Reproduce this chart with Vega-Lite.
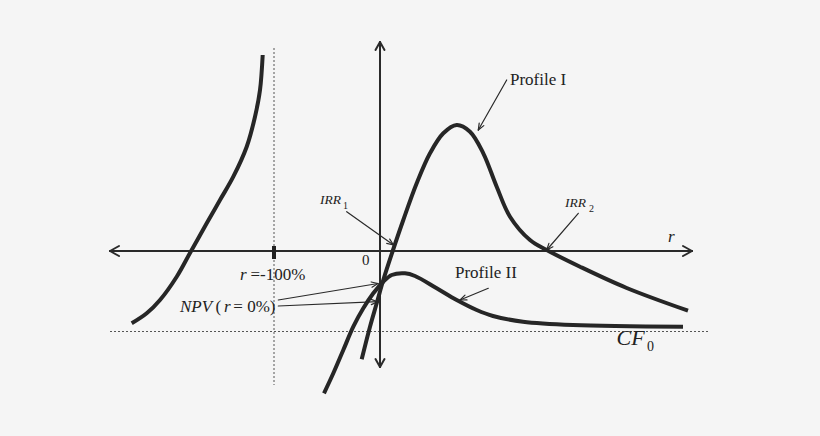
{
  "$schema": "https://vega.github.io/schema/vega-lite/v6.json",
  "description": "NPV profiles with multiple IRRs",
  "width": 820,
  "height": 436,
  "autosize": {"type": "fit", "contains": "padding"},
  "padding": 0,
  "background": "#f5f5f5",
  "config": {
    "view": {"stroke": null},
    "text": {"font": "Liberation Serif", "color": "#222222", "align": "left", "baseline": "middle"}
  },
  "datasets": {
    "curves": [
      {"curve": "left", "x": -248.3, "y": -72.3},
      {"curve": "left", "x": -233.3, "y": -62.3},
      {"curve": "left", "x": -220, "y": -49},
      {"curve": "left", "x": -203.3, "y": -25.7},
      {"curve": "left", "x": -189.3, "y": -0.7},
      {"curve": "left", "x": -173.3, "y": 27.7},
      {"curve": "left", "x": -160, "y": 51},
      {"curve": "left", "x": -146.7, "y": 74.3},
      {"curve": "left", "x": -133.3, "y": 104.3},
      {"curve": "left", "x": -125, "y": 134.3},
      {"curve": "left", "x": -120, "y": 161},
      {"curve": "left", "x": -117.3, "y": 196},
      {"curve": "I", "x": -18.3, "y": -108.3},
      {"curve": "I", "x": -10, "y": -75.7},
      {"curve": "I", "x": -3.3, "y": -52.3},
      {"curve": "I", "x": 3.3, "y": -29},
      {"curve": "I", "x": 12.7, "y": 0},
      {"curve": "I", "x": 23.3, "y": 31},
      {"curve": "I", "x": 36.7, "y": 67.7},
      {"curve": "I", "x": 50, "y": 97.7},
      {"curve": "I", "x": 63.3, "y": 117.7},
      {"curve": "I", "x": 76.7, "y": 126},
      {"curve": "I", "x": 90, "y": 119.3},
      {"curve": "I", "x": 103.3, "y": 97.7},
      {"curve": "I", "x": 116.7, "y": 64.3},
      {"curve": "I", "x": 130, "y": 34.3},
      {"curve": "I", "x": 150, "y": 11},
      {"curve": "I", "x": 166.7, "y": 1},
      {"curve": "I", "x": 200, "y": -15.7},
      {"curve": "I", "x": 246.7, "y": -37},
      {"curve": "I", "x": 308, "y": -59.7},
      {"curve": "II", "x": -56, "y": -142.3},
      {"curve": "II", "x": -46.7, "y": -122.3},
      {"curve": "II", "x": -36.7, "y": -99},
      {"curve": "II", "x": -26.7, "y": -75.7},
      {"curve": "II", "x": -16.7, "y": -57.3},
      {"curve": "II", "x": -6.7, "y": -42.3},
      {"curve": "II", "x": 3.3, "y": -30.7},
      {"curve": "II", "x": 11.7, "y": -24},
      {"curve": "II", "x": 25, "y": -22.3},
      {"curve": "II", "x": 35, "y": -25},
      {"curve": "II", "x": 56.7, "y": -37.3},
      {"curve": "II", "x": 76.7, "y": -49},
      {"curve": "II", "x": 96.7, "y": -59},
      {"curve": "II", "x": 113, "y": -65},
      {"curve": "II", "x": 143, "y": -70.7},
      {"curve": "II", "x": 193, "y": -74},
      {"curve": "II", "x": 303, "y": -75.7}
    ],
    "axes": [
      {"x": -270, "y": 0, "x2": 312, "y2": 0},
      {"x": -270, "y": 0, "x2": -261, "y2": 5},
      {"x": -270, "y": 0, "x2": -261, "y2": -5},
      {"x": 312, "y": 0, "x2": 303, "y2": 5},
      {"x": 312, "y": 0, "x2": 303, "y2": -5},
      {"x": 0, "y": 209, "x2": 0, "y2": -116},
      {"x": 0, "y": 209, "x2": -4.5, "y2": 201},
      {"x": 0, "y": 209, "x2": 4.5, "y2": 201},
      {"x": 0, "y": -116, "x2": -4.5, "y2": -108},
      {"x": 0, "y": -116, "x2": 4.5, "y2": -108}
    ],
    "dotted": [
      {"x": -106, "y": 203, "x2": -106, "y2": -134},
      {"x": -270, "y": -80.5, "x2": 330, "y2": -80.5}
    ],
    "tick": [
      {"x": -106, "y": 5, "x2": -106, "y2": -8}
    ],
    "pointers": [
      {"x": 126.7, "y": 171, "x2": 98.3, "y2": 121},
      {"x": 98.3, "y": 121, "x2": 99.2, "y2": 127.9},
      {"x": 98.3, "y": 121, "x2": 103.8, "y2": 125.4},
      {"x": 198.3, "y": 37.7, "x2": 166.7, "y2": 1},
      {"x": 166.7, "y": 1, "x2": 168.9, "y2": 7.6},
      {"x": 166.7, "y": 1, "x2": 172.9, "y2": 4.2},
      {"x": -33.3, "y": 39.3, "x2": 13.5, "y2": 6},
      {"x": 13.5, "y": 6, "x2": 6.69, "y2": 7.62},
      {"x": 13.5, "y": 6, "x2": 9.73, "y2": 11.91},
      {"x": 108.3, "y": -37.3, "x2": 80, "y2": -49},
      {"x": 80, "y": -49, "x2": 85, "y2": -44.1},
      {"x": 80, "y": -49, "x2": 87, "y2": -48.95},
      {"x": -101.7, "y": -49, "x2": -2, "y2": -32.5},
      {"x": -2, "y": -32.5, "x2": -7.98, "y2": -36.15},
      {"x": -2, "y": -32.5, "x2": -8.83, "y2": -30.97},
      {"x": -101.7, "y": -55, "x2": -2.3, "y2": -50.7},
      {"x": -2.3, "y": -50.7, "x2": -8.67, "y2": -53.61},
      {"x": -2.3, "y": -50.7, "x2": -8.9, "y2": -48.36}
    ],
    "roman": [
      {"label": "Profile I", "x": 130, "y": 171},
      {"label": "Profile II", "x": 75, "y": -22},
      {"label": "=-100%", "x": -129.5, "y": -24},
      {"label": "(", "x": -164.5, "y": -56},
      {"label": "= 0%)", "x": -146.7, "y": -56}
    ],
    "italic": [
      {"label": "r", "x": -140, "y": -24},
      {"label": "NPV", "x": -200, "y": -56},
      {"label": "r", "x": -156, "y": -56},
      {"label": "r", "x": 288, "y": 14}
    ],
    "origin": [
      {"label": "0", "x": -18, "y": -9}
    ],
    "irr": [
      {"label": "IRR", "x": 185, "y": 48},
      {"label": "IRR", "x": -60, "y": 51}
    ],
    "irrsub": [
      {"label": "2", "x": 209, "y": 42},
      {"label": "1", "x": -37, "y": 45}
    ],
    "cf": [
      {"label": "CF", "x": 236.5, "y": -87}
    ],
    "cfsub": [
      {"label": "0", "x": 267, "y": -96}
    ]
  },
  "layer": [
    {
      "data": {"name": "dotted"},
      "mark": {"type": "rule", "color": "#555555", "strokeWidth": 1, "strokeDash": [2, 2]},
      "encoding": {
        "x": {"field": "x", "type": "quantitative", "scale": {"domain": [-380, 440], "nice": false, "zero": false}, "axis": null},
        "y": {"field": "y", "type": "quantitative", "scale": {"domain": [-185, 251], "nice": false, "zero": false}, "axis": null},
        "x2": {"field": "x2"},
        "y2": {"field": "y2"}
      }
    },
    {
      "data": {"name": "axes"},
      "mark": {"type": "rule", "color": "#2a2a2a", "strokeWidth": 2, "strokeCap": "round"},
      "encoding": {
        "x": {"field": "x", "type": "quantitative", "scale": {"domain": [-380, 440], "nice": false, "zero": false}, "axis": null},
        "y": {"field": "y", "type": "quantitative", "scale": {"domain": [-185, 251], "nice": false, "zero": false}, "axis": null},
        "x2": {"field": "x2"},
        "y2": {"field": "y2"}
      }
    },
    {
      "data": {"name": "tick"},
      "mark": {"type": "rule", "color": "#222222", "strokeWidth": 4},
      "encoding": {
        "x": {"field": "x", "type": "quantitative", "scale": {"domain": [-380, 440], "nice": false, "zero": false}, "axis": null},
        "y": {"field": "y", "type": "quantitative", "scale": {"domain": [-185, 251], "nice": false, "zero": false}, "axis": null},
        "x2": {"field": "x2"},
        "y2": {"field": "y2"}
      }
    },
    {
      "data": {"name": "pointers"},
      "mark": {"type": "rule", "color": "#2a2a2a", "strokeWidth": 1.2, "strokeCap": "round"},
      "encoding": {
        "x": {"field": "x", "type": "quantitative", "scale": {"domain": [-380, 440], "nice": false, "zero": false}, "axis": null},
        "y": {"field": "y", "type": "quantitative", "scale": {"domain": [-185, 251], "nice": false, "zero": false}, "axis": null},
        "x2": {"field": "x2"},
        "y2": {"field": "y2"}
      }
    },
    {
      "data": {"name": "curves"},
      "mark": {"type": "line", "color": "#262626", "strokeWidth": 4, "interpolate": "catmull-rom", "strokeCap": "butt"},
      "encoding": {
        "x": {"field": "x", "type": "quantitative", "scale": {"domain": [-380, 440], "nice": false, "zero": false}, "axis": null},
        "y": {"field": "y", "type": "quantitative", "scale": {"domain": [-185, 251], "nice": false, "zero": false}, "axis": null},
        "detail": {"field": "curve", "type": "nominal"}
      }
    },
    {
      "data": {"name": "roman"},
      "mark": {"type": "text", "fontSize": 17},
      "encoding": {
        "x": {"field": "x", "type": "quantitative", "scale": {"domain": [-380, 440], "nice": false, "zero": false}, "axis": null},
        "y": {"field": "y", "type": "quantitative", "scale": {"domain": [-185, 251], "nice": false, "zero": false}, "axis": null},
        "text": {"field": "label"}
      }
    },
    {
      "data": {"name": "italic"},
      "mark": {"type": "text", "fontSize": 17, "fontStyle": "italic"},
      "encoding": {
        "x": {"field": "x", "type": "quantitative", "scale": {"domain": [-380, 440], "nice": false, "zero": false}, "axis": null},
        "y": {"field": "y", "type": "quantitative", "scale": {"domain": [-185, 251], "nice": false, "zero": false}, "axis": null},
        "text": {"field": "label"}
      }
    },
    {
      "data": {"name": "origin"},
      "mark": {"type": "text", "fontSize": 15},
      "encoding": {
        "x": {"field": "x", "type": "quantitative", "scale": {"domain": [-380, 440], "nice": false, "zero": false}, "axis": null},
        "y": {"field": "y", "type": "quantitative", "scale": {"domain": [-185, 251], "nice": false, "zero": false}, "axis": null},
        "text": {"field": "label"}
      }
    },
    {
      "data": {"name": "irr"},
      "mark": {"type": "text", "fontSize": 13.5, "fontStyle": "italic"},
      "encoding": {
        "x": {"field": "x", "type": "quantitative", "scale": {"domain": [-380, 440], "nice": false, "zero": false}, "axis": null},
        "y": {"field": "y", "type": "quantitative", "scale": {"domain": [-185, 251], "nice": false, "zero": false}, "axis": null},
        "text": {"field": "label"}
      }
    },
    {
      "data": {"name": "irrsub"},
      "mark": {"type": "text", "fontSize": 10},
      "encoding": {
        "x": {"field": "x", "type": "quantitative", "scale": {"domain": [-380, 440], "nice": false, "zero": false}, "axis": null},
        "y": {"field": "y", "type": "quantitative", "scale": {"domain": [-185, 251], "nice": false, "zero": false}, "axis": null},
        "text": {"field": "label"}
      }
    },
    {
      "data": {"name": "cf"},
      "mark": {"type": "text", "fontSize": 22, "fontStyle": "italic"},
      "encoding": {
        "x": {"field": "x", "type": "quantitative", "scale": {"domain": [-380, 440], "nice": false, "zero": false}, "axis": null},
        "y": {"field": "y", "type": "quantitative", "scale": {"domain": [-185, 251], "nice": false, "zero": false}, "axis": null},
        "text": {"field": "label"}
      }
    },
    {
      "data": {"name": "cfsub"},
      "mark": {"type": "text", "fontSize": 14},
      "encoding": {
        "x": {"field": "x", "type": "quantitative", "scale": {"domain": [-380, 440], "nice": false, "zero": false}, "axis": null},
        "y": {"field": "y", "type": "quantitative", "scale": {"domain": [-185, 251], "nice": false, "zero": false}, "axis": null},
        "text": {"field": "label"}
      }
    }
  ]
}
